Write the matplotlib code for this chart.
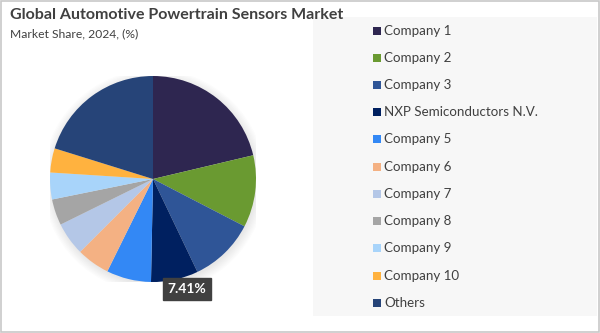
import matplotlib.pyplot as plt
from matplotlib.patches import Rectangle, Circle
import numpy as np

plt.rcParams['font.family'] = ['Lato', 'DejaVu Sans']

#----------DATA----------
companies = ["Company 1", "Company 2", "Company 3", "NXP Semiconductors N.V.",
             "Company 5", "Company 6", "Company 7", "Company 8", "Company 9",
             "Company 10", "Others"]
shares = [21.3, 11.3, 10.3, 7.41, 7.0, 5.2, 5.2, 4.1, 4.2, 3.8, 20.19]
colors = ["#2E2650", "#6A9A31", "#2F5597", "#002060", "#3388F5", "#F4B183",
          "#B4C7E7", "#A5A5A5", "#A8D4FA", "#FFB23F", "#264478"]
labelled = "NXP Semiconductors N.V."

W, H = 600, 333
fig = plt.figure(figsize=(W / 100, H / 100), dpi=100)
fig.patch.set_facecolor("white")

# outer frame
fig.add_artist(Rectangle((0.002, 0.003), 0.996, 0.994, transform=fig.transFigure,
                         fill=False, edgecolor="#C8C8C8", linewidth=1.2))

# legend panel background
fig.add_artist(Rectangle((313 / W, 1 - 316 / H), 284 / W, 299 / H,
                         transform=fig.transFigure, facecolor="#F7F7F7",
                         edgecolor="none"))

#----------TITLE----------
fig.text(10 / W, 1 - 15 / H, "Global Automotive Powertrain Sensors Market",
         fontsize=11.5, fontweight="bold", color="#404040", va="center", ha="left")
fig.text(10 / W, 1 - 34 / H, "Market Share, 2024, (%)",
         fontsize=8.7, color="#404040", va="center", ha="left")

#----------PIE----------
cx, cy, r = 153, 179, 103
ax = fig.add_axes([(cx - r) / W, (H - cy - r) / H, 2 * r / W, 2 * r / H])

# soft shadow under the pie
for k in range(8):
    ax.add_patch(Circle((0.01, -0.02), 1.0 + 0.012 * k, facecolor="black",
                        alpha=0.012, edgecolor="none", zorder=0))

wedges, _ = ax.pie(shares, colors=colors, startangle=90, counterclock=False,
                   radius=1.0, wedgeprops=dict(linewidth=0))
ax.set_xlim(-1, 1)
ax.set_ylim(-1, 1)
ax.axis("off")

# value tag on the NXP slice
i = companies.index(labelled)
w = wedges[i]
mid = np.deg2rad((w.theta1 + w.theta2) / 2)
px, py = np.cos(mid), np.sin(mid)
ax.annotate(f"{shares[i]:.2f}%", xy=(px, py), xytext=(px + 0.12, py - 0.09),
            ha="center", va="center", fontsize=10, fontweight="bold", color="white",
            bbox=dict(boxstyle="square,pad=0.35", facecolor="#404040",
                      edgecolor="#404040"), annotation_clip=False)

#----------LEGEND----------
for j, (name, c) in enumerate(zip(companies, colors)):
    y = 1 - (30.7 + j * 27.2) / H
    fig.add_artist(Rectangle((373 / W, y - 4 / H), 8 / W, 8 / H,
                             transform=fig.transFigure, facecolor=c,
                             edgecolor="none"))
    fig.text(384 / W, y, name, fontsize=9.6, color="#404040", va="center", ha="left")

fig.savefig("out.png", dpi=100)
